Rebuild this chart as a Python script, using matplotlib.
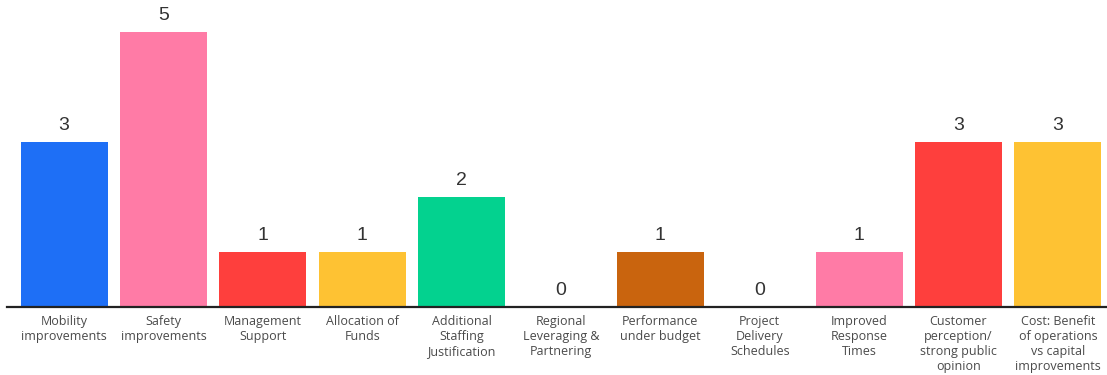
import matplotlib
matplotlib.use("Agg")
import matplotlib.pyplot as plt

categories = [
    "Mobility\nimprovements",
    "Safety\nimprovements",
    "Management\nSupport",
    "Allocation of\nFunds",
    "Additional\nStaffing\nJustification",
    "Regional\nLeveraging &\nPartnering",
    "Performance\nunder budget",
    "Project\nDelivery\nSchedules",
    "Improved\nResponse\nTimes",
    "Customer\nperception/\nstrong public\nopinion",
    "Cost: Benefit\nof operations\nvs capital\nimprovements",
]
values = [3, 5, 1, 1, 2, 0, 1, 0, 1, 3, 3]
colors = [
    "#1e6ff6", "#ff7ba6", "#fe3f3d", "#fec233", "#03d28f", "#fec233",
    "#c9640e", "#fec233", "#ff7ba6", "#fe3f3d", "#fec233",
]

W, H = 1107, 375
fig = plt.figure(figsize=(W / 100, H / 100), dpi=100)
base_y = 307
ax = fig.add_axes([7 / W, 1 - base_y / H, 1 - 7 / W, base_y / H])

x = list(range(len(values)))
bars = ax.bar(x, values, width=0.875, color=colors, zorder=2)

ax.set_xlim(-0.575, 10.495)
ax.set_ylim(0, base_y / 55.0)

for rect, v in zip(bars, values):
    ax.annotate(str(v), (rect.get_x() + rect.get_width() / 2, v),
                xytext=(0, 6), textcoords="offset points",
                ha="center", va="bottom", fontsize=14,
                color="#333333", family="Liberation Sans")

ax.set_xticks(x)
ax.set_xticklabels(categories, fontsize=9, color="#4a4a4a",
                   family="Open Sans", linespacing=1.2)
ax.tick_params(axis="x", length=0, pad=6)
ax.set_yticks([])
for side in ("top", "right", "left"):
    ax.spines[side].set_visible(False)
ax.spines["bottom"].set_color("#222222")
ax.spines["bottom"].set_linewidth(1.6)

fig.savefig("out.png", dpi=100)
